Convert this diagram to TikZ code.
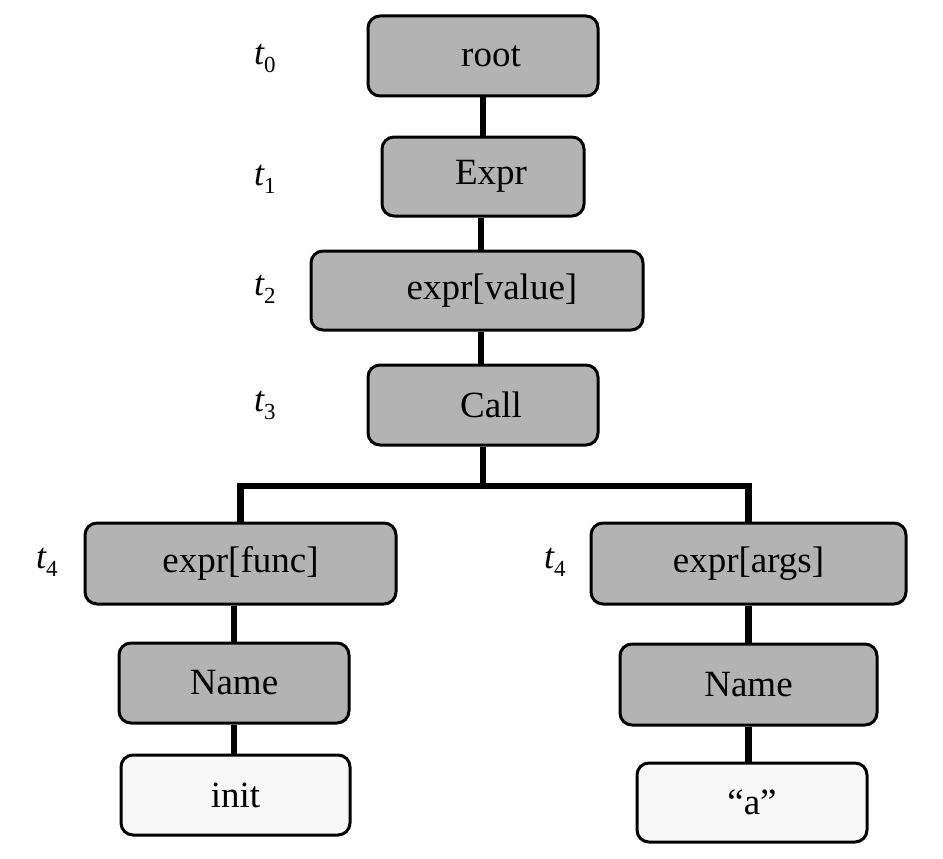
\documentclass[tikz,border=0pt]{standalone}
\usepackage{fontspec}
\setmainfont{Liberation Serif}
\definecolor{boxgray}{RGB}{179,179,179}
\definecolor{leafwhite}{RGB}{248,248,248}
\newcommand\tlabtext[1]{{\fontsize{36}{36}\selectfont\itshape t}\raisebox{-8pt}{\fontsize{23}{23}\selectfont #1}}
\tikzset{
  treebox/.style={draw=black, line width=3pt, rounded corners=12pt, fill=boxgray,
    inner sep=0pt, font=\fontsize{37}{37}\selectfont},
  leafbox/.style={treebox, fill=leafwhite},
  conn/.style={line width=6.5pt, line join=miter},
  tlab/.style={anchor=base west, inner sep=0pt}
}
\begin{document}
\begin{tikzpicture}[x=1pt,y=-1pt]
\useasboundingbox (0,0) rectangle (943,859);
% nodes
\node[treebox, minimum width=230pt, minimum height=80pt] (root) at (483,56) {\hspace*{16pt}root};
\node[treebox, minimum width=202pt, minimum height=79pt] (Expr) at (483,176.5) {\hspace*{16pt}Expr};
\node[treebox, minimum width=332pt, minimum height=79pt] (value) at (477,290.5) {\hspace*{30pt}expr[value]};
\node[treebox, minimum width=230pt, minimum height=80pt] (Call) at (483,405) {\hspace*{16pt}Call};
\node[treebox, minimum width=311pt, minimum height=81pt] (func) at (240.5,563.5) {expr[func]};
\node[treebox, minimum width=315pt, minimum height=81pt] (args) at (748.5,563.5) {expr[args]};
\node[treebox, minimum width=230pt, minimum height=80pt] (nameL) at (234,683) {Name};
\node[treebox, minimum width=257pt, minimum height=81pt] (nameR) at (748.5,684.5) {Name};
\node[leafbox, minimum width=229pt, minimum height=80pt] (init) at (235.5,795) {init};
\node[leafbox, minimum width=230pt, minimum height=79pt] (stra) at (752,802.5) {``a''};
% level labels
\node[tlab] (l0) at (254,65) {\tlabtext{0}};
\node[tlab] (l1) at (254,185) {\tlabtext{1}};
\node[tlab] (l2) at (254,295) {\tlabtext{2}};
\node[tlab] (l3) at (254,411) {\tlabtext{3}};
\node[tlab] (l4a) at (36,568) {\tlabtext{4}};
\node[tlab] (l4b) at (544,568) {\tlabtext{4}};
% connectors
\coordinate (bar) at (483,486);
\draw[conn] (root.south) -- (Expr.north);
\draw[conn] ([xshift=-2pt]Expr.south) -- ([xshift=-2pt]Expr.south |- value.north);
\draw[conn] ([xshift=4pt]value.south) -- ([xshift=4pt]value.south |- Call.north);
\draw[conn] (Call.south) -- (Call.south |- bar);
\draw[conn] (func.north) -- (func.north |- bar) -- (args.north |- bar) -- (args.north);
\draw[conn] (func.south -| nameL.north) -- (nameL.north);
\draw[conn] (nameL.south) -- (nameL.south |- init.north);
\draw[conn] (args.south -| nameR.north) -- (nameR.north);
\draw[conn] (nameR.south) -- (nameR.south |- stra.north);
\end{tikzpicture}
\end{document}
